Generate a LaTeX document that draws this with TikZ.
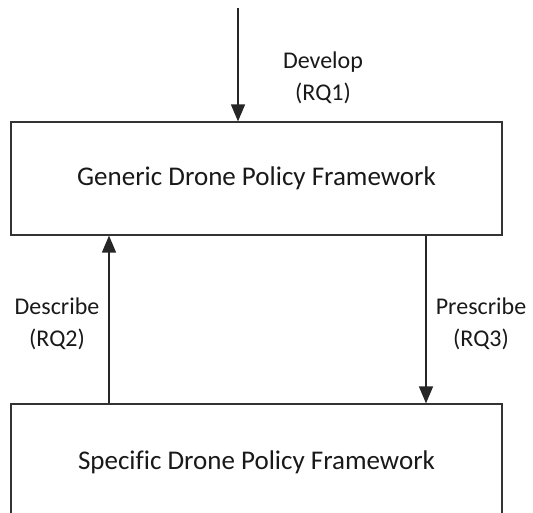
\documentclass[tikz,border=0pt]{standalone}
\usepackage{fontspec}
\setmainfont[Ligatures=NoCommon]{Carlito}
\usetikzlibrary{arrows.meta}
\begin{document}
\begin{tikzpicture}[x=1pt,y=-1pt,
  frame/.style={draw=black!80, line width=1.2pt, fill=white, inner sep=0pt,
    minimum width=491pt, font=\fontsize{27}{32}\selectfont, text=black!90},
  flow/.style={draw=black!85, line width=1.5pt,
    -{Triangle[length=17pt,width=14pt]}},
  lbl/.style={font=\fontsize{24}{32}\selectfont, text=black!90, align=center}]
  \useasboundingbox (0,0) rectangle (533,513);
  \clip (0,0) rectangle (533,513);

  \node[frame, minimum height=113pt] (gen) at (256.5,178.5)
    {Generic Drone Policy Framework};
  \node[frame, minimum height=116pt] (spec) at (256.5,462)
    {Specific Drone Policy Framework};

  \coordinate (src) at (238,8);
  \draw[flow] (src) -- (src |- gen.north);
  \draw[flow] (spec.north -| 109,0) -- (gen.south -| 109,0);
  \draw[flow] (gen.south -| 426,0) -- (spec.north -| 426,0);

  \node[lbl] (dev) at (323,77.5) {Develop\\(RQ1)};
  \node[lbl] (des) at (57,324) {Describe\\(RQ2)};
  \node[lbl] (pre) at (481,324) {Prescribe\\(RQ3)};
\end{tikzpicture}
\end{document}
